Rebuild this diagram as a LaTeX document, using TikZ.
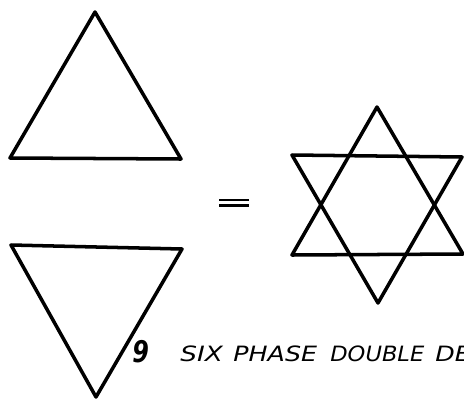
\documentclass[tikz,border=0pt]{standalone}
\usepackage{fontspec}
\newfontfamily\letterfont{DejaVu Sans}
\tikzset{
    delta/.style={line width=2pt, line join=round, line cap=round},
    lettering/.style={font=\letterfont\itshape\fontsize{12}{13}\selectfont, anchor=base west, inner sep=0pt}
}
\begin{document}
\begin{tikzpicture}[x=0.02cm, y=-0.02cm]
    \useasboundingbox (0, 0) rectangle (464, 400);

    % Upward delta
    \coordinate (UA) at (95, 12);
    \coordinate (UL) at (10, 158);
    \coordinate (UR) at (181, 159);
    \draw[delta] (UA) -- (UL) -- (UR) -- cycle;

    % Downward delta
    \coordinate (DL) at (11, 245);
    \coordinate (DR) at (182, 249);
    \coordinate (DA) at (96, 397);
    \draw[delta] (DL) -- (DR) -- (DA) -- cycle;

    % Equals sign
    \draw[line width=1.6pt] (219, 200) -- (249, 200);
    \draw[line width=1.6pt] (219, 205.5) -- (249, 205.5);

    % Six phase star
    \coordinate (SA) at (377, 107);
    \coordinate (SL) at (292, 255);
    \coordinate (SR) at (463, 254);
    \draw[delta] (SA) -- (SL) -- (SR) -- cycle;
    \coordinate (TL) at (292, 155);
    \coordinate (TR) at (462, 157);
    \coordinate (TA) at (378, 303);
    \draw[delta] (TL) -- (TR) -- (TA) -- cycle;

    % Caption
    \node[lettering, font=\letterfont\itshape\bfseries\fontsize{17}{18}\selectfont, xscale=0.8] (fig) at (132, 362) {9};
    \node[lettering, xscale=1.25] (six) at (180, 361) {SIX};
    \node[lettering, xscale=1.2] (phase) at (233, 361) {PHASE};
    \node[lettering, xscale=1.07] (double) at (330, 361) {DOUBLE};
    \node[lettering, xscale=1.2] (de) at (435, 361) {DE};
\end{tikzpicture}
\end{document}
